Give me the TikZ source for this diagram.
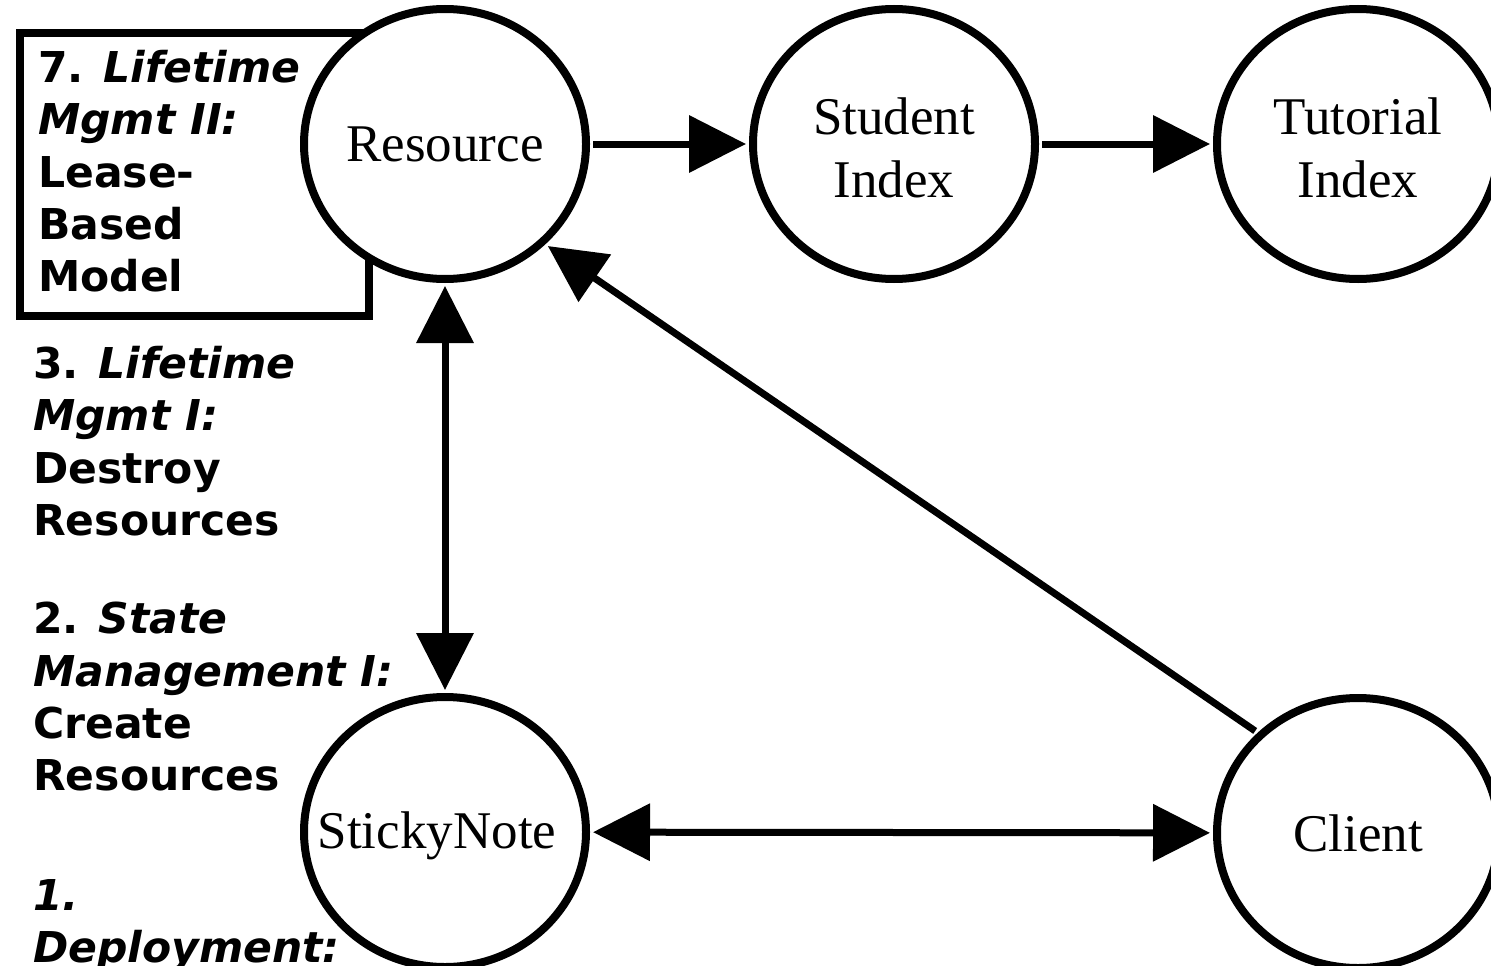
\documentclass[tikz,border=0pt]{standalone}
\usepackage{fontspec}
\setmainfont{Liberation Serif}
\newfontfamily\lblfont{DejaVu Sans}
\usetikzlibrary{shapes.geometric,arrows.meta}
\begin{document}
\begin{tikzpicture}[x=1pt,y=-1pt,
  stnode/.style={ellipse,draw,line width=8pt,fill=white,minimum width=282pt,minimum height=270pt,inner sep=0pt,font=\fontsize{53}{63}\selectfont},
  lbl/.style={anchor=north west,inner sep=0pt,align=left,font=\lblfont\bfseries\fontsize{42.5}{52.3}\selectfont},
  conn/.style={line width=7pt,shorten >=3pt,shorten <=3pt},
  tipend/.style={-{Triangle[length=57pt,width=56pt]}},
  tipboth/.style={{Triangle[length=57pt,width=56pt]}-{Triangle[length=57pt,width=56pt]}},
  ]
\useasboundingbox (0,0) rectangle (1491,966);
\clip (0,0) rectangle (1491,966);
\node[draw,line width=8pt,minimum width=349pt,minimum height=283pt,anchor=north west,inner sep=0pt] (box) at (16,29) {};
\node[lbl] (l7) at (38,50) {7. \textit{Lifetime}\\\textit{Mgmt II:}\\Lease-\\Based\\Model};
\node[lbl] (l3) at (33,346) {3. \textit{Lifetime}\\\textit{Mgmt I:}\\Destroy\\Resources};
\node[lbl] (l2) at (33,602) {2. \textit{State}\\\textit{Management I:}\\Create\\Resources};
\node[lbl] (l1) at (33,879) {\textit{1.}\\\textit{Deployment:}};
\node[stnode] (res) at (445,144) {\makebox[0pt]{Resource}};
\node[stnode] (stu) at (894,144) {\makebox[0pt]{\raisebox{-9pt}[\height][\depth]{\begin{tabular}{@{}c@{}}Student\\Index\end{tabular}}}};
\node[stnode] (tut) at (1358,144) {\makebox[0pt]{\raisebox{-9pt}[\height][\depth]{\begin{tabular}{@{}c@{}}Tutorial\\Index\end{tabular}}}};
\node[stnode] (sti) at (445,832) {\makebox[0pt]{\raisebox{-4pt}[\height][\depth]{\hspace{-16pt}StickyNote}}};
\node[stnode] (cli) at (1358,833) {\makebox[0pt]{Client}};
\draw[conn,tipend] (res) -- (stu);
\draw[conn,tipend] (stu) -- (tut);
\draw[conn,tipboth] (res) -- (sti);
\draw[conn,tipboth] (sti) -- (cli);
\draw[conn,tipend] (cli.135) -- (res.-45);
\end{tikzpicture}
\end{document}
